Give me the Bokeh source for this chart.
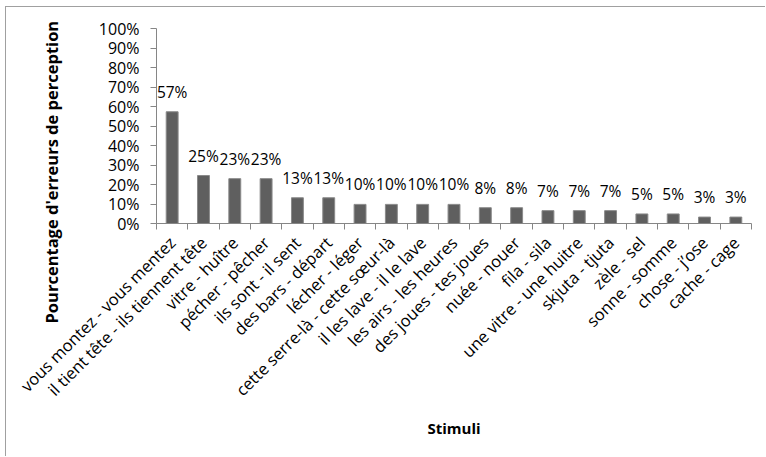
import math
from bokeh.plotting import figure
from bokeh.models import Range1d, FixedTicker, NumeralTickFormatter, ColumnDataSource, Title
from bokeh.core.properties import value
from bokeh.embed import file_html
from bokeh.resources import INLINE

categories = [
    "vous montez - vous mentez",
    "il tient tête - ils tiennent tête",
    "vitre - huître",
    "pécher - pêcher",
    "ils sont - il sent",
    "des bars - départ",
    "lécher - léger",
    "cette serre-là - cette sœur-là",
    "il les lave - il le lave",
    "les airs - les heures",
    "des joues - tes joues",
    "nuée - nouer",
    "fila - sila",
    "une vitre - une huitre",
    "skjuta - tjuta",
    "zèle - sel",
    "sonne - somme",
    "chose - j’ose",
    "cache - cage",
]
values = [0.573, 0.246, 0.23, 0.23, 0.132, 0.132, 0.098, 0.098, 0.098, 0.098,
          0.081, 0.081, 0.066, 0.066, 0.066, 0.049, 0.049, 0.033, 0.033]
value_labels = ["57%", "25%", "23%", "23%", "13%", "13%", "10%", "10%", "10%", "10%",
                "8%", "8%", "7%", "7%", "7%", "5%", "5%", "3%", "3%"]
y_ticks = [0, 0.1, 0.2, 0.3, 0.4, 0.5, 0.6, 0.7, 0.8, 0.9, 1.0]
y_title = "Pourcentage d'erreurs de perception"
x_title = "Stimuli"

FONT = "Open Sans"
AX = "#868686"
n = len(categories)
centers = [i + 0.5 for i in range(n)]
bounds = list(range(n + 1))

src = ColumnDataSource(dict(x=centers, top=values, lab=value_labels))

p = figure(width=760, height=450, output_backend="svg", toolbar_location=None,
           x_range=Range1d(0, n), y_range=Range1d(0, 1),
           min_border_left=150, min_border_right=15, min_border_top=21, min_border_bottom=234)
p.styles = {"margin-left": "6px", "margin-top": "7px",
            "box-shadow": "-1px -1px 0 0 #a0a0a0"}
p.outline_line_color = None
p.xgrid.visible = False
p.ygrid.visible = False

p.vbar(x="x", top="top", width=0.38, bottom=0, source=src,
       fill_color="#5f5f5f", line_color="#8a8a8a", line_width=1)
p.text(x="x", y="top", text="lab", source=src, text_align="center",
       text_baseline="alphabetic", y_offset=-20, text_font=value(FONT),
       text_font_size="15.5px", text_color="#000000")

# y axis
p.yaxis.ticker = FixedTicker(ticks=y_ticks)
p.yaxis.formatter = NumeralTickFormatter(format="0%")
p.yaxis.axis_line_color = AX
p.yaxis.major_tick_line_color = AX
p.yaxis.major_tick_out = 6
p.yaxis.major_tick_in = 0
p.yaxis.minor_tick_line_color = None
p.yaxis.major_label_standoff = 11
p.yaxis.major_label_text_font = FONT
p.yaxis.major_label_text_font_size = "16px"
p.yaxis.major_label_text_color = "#000000"

# y title as a side title so that it can be shifted along the axis
ytitle = Title(text=y_title, align="left", offset=-100, vertical_align="middle",
               standoff=64, text_font=FONT, text_font_style="bold",
               text_font_size="16.5px", text_color="#000000")
p.add_layout(ytitle, "left")

# x axis
p.xaxis.ticker = FixedTicker(ticks=centers, minor_ticks=bounds)
p.xaxis.major_label_overrides = {c: lab for c, lab in zip(centers, categories)}
p.xaxis.axis_line_color = AX
p.xaxis.major_tick_line_color = None
p.xaxis.major_tick_out = 0
p.xaxis.major_tick_in = 0
p.xaxis.minor_tick_line_color = AX
p.xaxis.minor_tick_out = 6
p.xaxis.minor_tick_in = 0
p.xaxis.major_label_orientation = math.pi / 4
p.xaxis.major_label_standoff = 10
p.xaxis.major_label_text_font = FONT
p.xaxis.major_label_text_font_size = "16.5px"
p.xaxis.major_label_text_color = "#000000"
p.xaxis.axis_label = x_title
p.xaxis.axis_label_text_font = FONT
p.xaxis.axis_label_text_font_style = "bold"
p.xaxis.axis_label_text_font_size = "15px"
p.xaxis.axis_label_text_color = "#000000"
p.xaxis.axis_label_standoff = 6

open("out.html", "w").write(file_html(p, INLINE))
